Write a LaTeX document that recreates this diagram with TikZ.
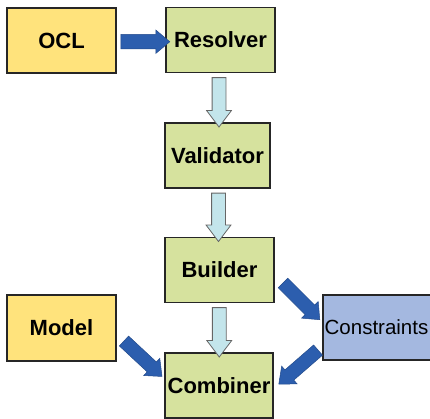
\documentclass[tikz,border=0pt]{standalone}
\usepackage{fontspec}
\setmainfont{Liberation Sans}
\usetikzlibrary{shapes.arrows,calc}
\definecolor{boxyellow}{HTML}{FFE37C}
\definecolor{boxgreen}{HTML}{D6E29E}
\definecolor{boxblue}{HTML}{A4B8E0}
\definecolor{arrowlight}{HTML}{C3E5EB}
\definecolor{arrowblue}{HTML}{2C5EAE}
\tikzset{
  block/.style={draw=black!85, line width=1.1pt, minimum width=109pt, minimum height=65pt,
    inner sep=0pt, font=\fontsize{22}{26}\selectfont\bfseries},
  yblock/.style={block, fill=boxyellow},
  gblock/.style={block, fill=boxgreen},
  bblock/.style={block, fill=boxblue, font=\fontsize{20.5}{25}\selectfont},
  lightarrow/.style={single arrow, draw=black!60, line width=0.8pt, fill=arrowlight,
    minimum width=0pt, inner sep=6.5pt, single arrow head extend=5.5pt,
    single arrow tip angle=74, single arrow head indent=0pt, shape border rotate=270},
  bluearrow/.style={single arrow, draw=arrowblue!80!black, line width=0.5pt, fill=arrowblue,
    minimum width=0pt, inner xsep=0pt, inner ysep=6.5pt, single arrow head extend=5pt,
    single arrow tip angle=80, single arrow head indent=0pt, minimum height=52pt},
}
\begin{document}
\begin{tikzpicture}[x=1pt,y=1pt]
\useasboundingbox (0,0) rectangle (430,419);
\node[yblock] (ocl) at (61.5,378.5) {OCL};
\node[gblock] (res) at (220.5,379) {Resolver};
\node[gblock, minimum width=105pt] (val) at (217.5,263.5) {Validator};
\node[gblock] (bui) at (219.5,149) {Builder};
\node[gblock, minimum width=108pt] (com) at (219,33.5) {Combiner};
\node[yblock, minimum height=66pt] (mod) at (61.5,91) {Model};
\node[bblock, minimum width=110pt, text width=108pt, align=center] (con) at (378,91.5) {\hspace*{-3pt}Constraints};
% light vertical arrows
\path let \p1=(res.south), \p2=(val.north) in
  node[lightarrow, minimum height={\y1-\y2}] (a1) at ($(res.south)!0.5!(val.north)$) {};
\path let \p1=(val.south), \p2=(bui.north) in
  node[lightarrow, minimum height={\y1-\y2}] (a2) at ($(val.south)!0.5!(bui.north)$) {};
\path let \p1=(bui.south), \p2=(com.north) in
  node[lightarrow, minimum height={\y1-\y2}] (a3) at ($(bui.south)!0.5!(com.north)$) {};
% blue arrows
\path let \p1=(ocl.east), \p2=(res.west) in
  node[bluearrow, minimum height={\x2-\x1}, inner ysep=7pt, single arrow head extend=4.5pt] (b1)
  at ($(ocl.east)!0.5!(res.west)+(0,-1.5)$) {};
\node[bluearrow, rotate=-45] (b2) at ($(bui.east)+(24,-28.5)$) {};
\node[bluearrow, rotate=-43] (b3) at ($(mod.east)+(23.5,-28)$) {};
\node[bluearrow, rotate=221] (b4) at ($(con.west)+(-21,-37)$) {};
\end{tikzpicture}
\end{document}
